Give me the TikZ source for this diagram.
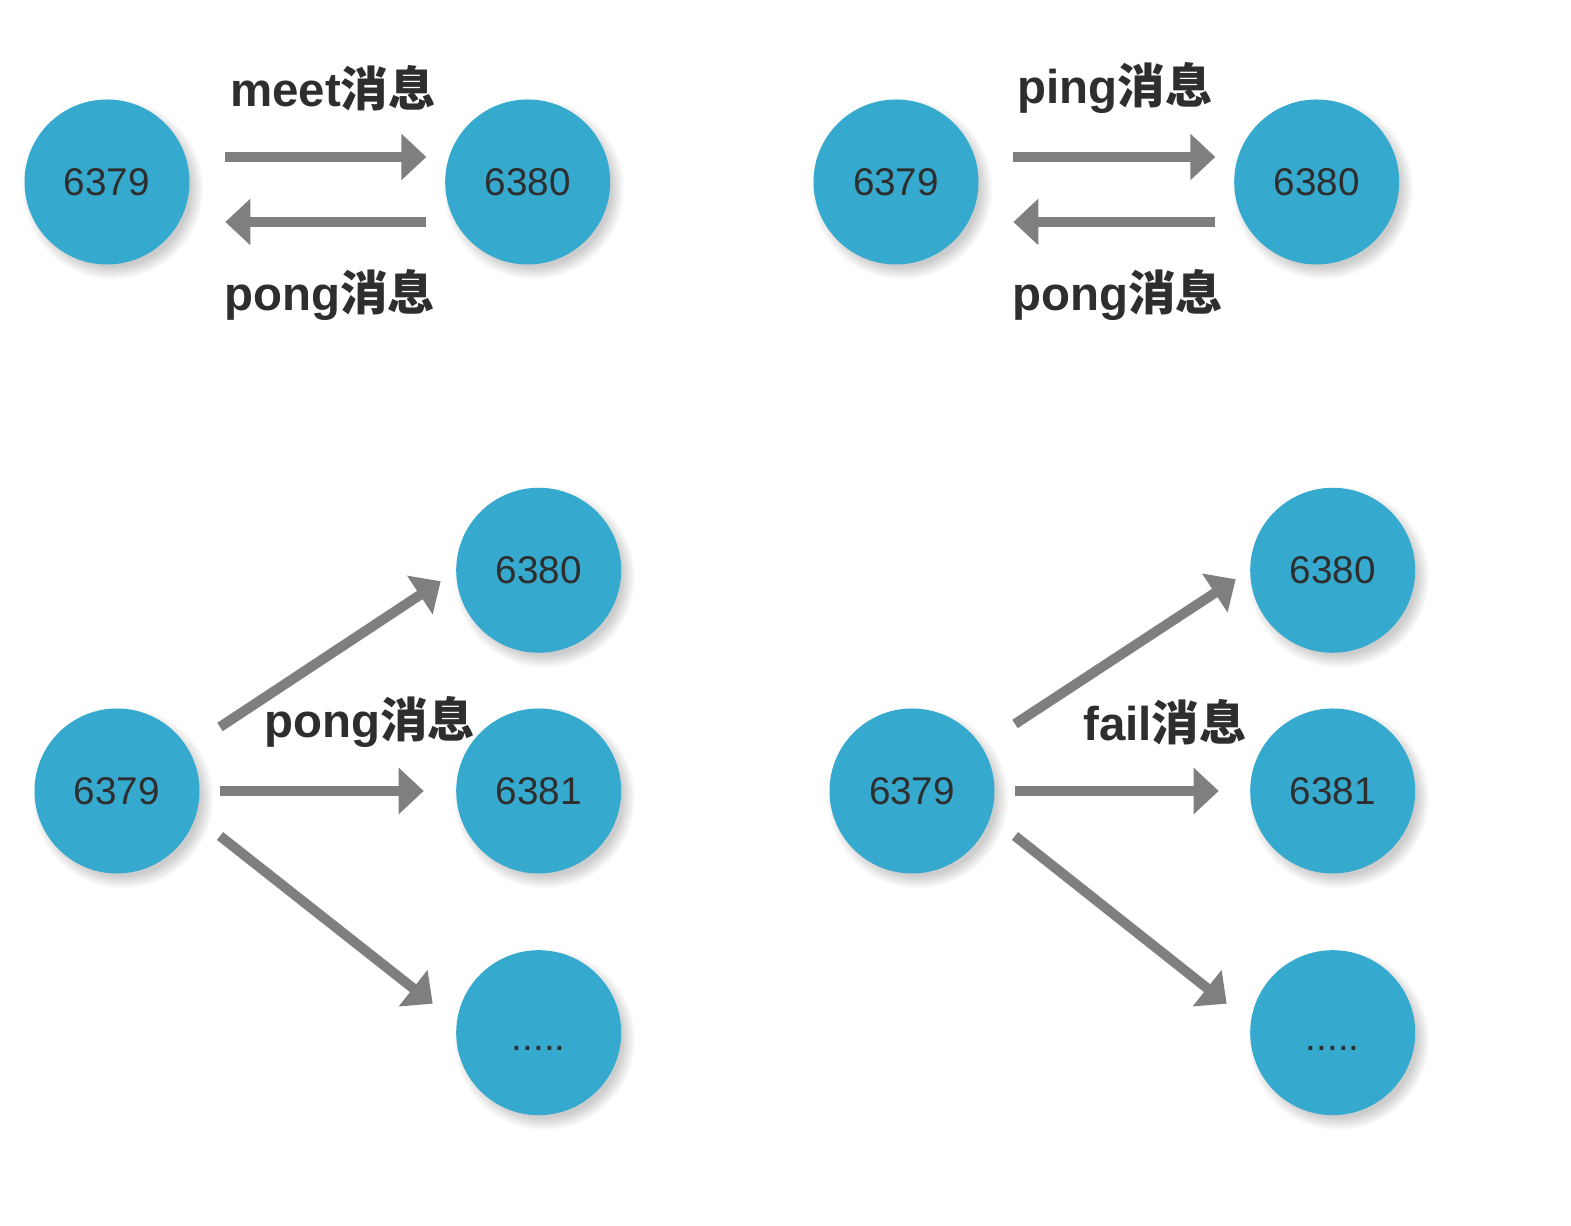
\documentclass[tikz,border=0pt]{standalone}
\usepackage{fontspec}
\setmainfont{Liberation Sans}
\newfontfamily\cjk{Noto Sans CJK SC}
\usepackage{tikz}
\usetikzlibrary{arrows.meta,positioning,shadows}
\definecolor{nodeblue}{HTML}{36A9CE}
\definecolor{arrowgray}{HTML}{7F7F7F}
\definecolor{textdark}{HTML}{2E2E2E}

\begin{document}
\begin{tikzpicture}[
  node distance=5.1cm,
  port/.style={circle,fill=nodeblue,minimum size=3.3cm,inner sep=0pt,
    text=textdark,font=\fontsize{22}{24}\selectfont,
    circular drop shadow={shadow xshift=0.1cm,shadow yshift=-0.12cm,
      fill=black!28,opacity=0.7}},
  msg/.style={text=textdark,font=\fontsize{27}{29}\selectfont\bfseries},
  arrow/.style={draw=arrowgray,line width=0.2cm,
    -{Triangle[length=0.5cm,width=0.9cm]}}
]
  \useasboundingbox (0,0) rectangle (31.42,24.52);

  % meet / pong
  \node[port] (meetA) at (2.14,20.88) {6379};
  \node[port,right=of meetA] (meetB) {6380};
  \node[msg] (meetMsg) at (6.66,22.76) {meet{\cjk 消息}};
  \node[msg] (meetPong) at (6.6,18.62) {pong{\cjk 消息}};
  \draw[arrow] ([shift={(0.71,0.5)}]meetA.east) -- ([shift={(-0.37,0.5)}]meetB.west);
  \draw[arrow] ([shift={(-0.37,-0.8)}]meetB.west) -- ([shift={(0.71,-0.8)}]meetA.east);

  % ping / pong
  \node[port] (pingA) at (17.92,20.88) {6379};
  \node[port,right=of pingA] (pingB) {6380};
  \node[msg] (pingMsg) at (22.3,22.76) {ping{\cjk 消息}};
  \node[msg] (pingPong) at (22.36,18.62) {pong{\cjk 消息}};
  \draw[arrow] ([shift={(0.69,0.5)}]pingA.east) -- ([shift={(-0.37,0.5)}]pingB.west);
  \draw[arrow] ([shift={(-0.37,-0.8)}]pingB.west) -- ([shift={(0.69,-0.8)}]pingA.east);

  % pong broadcast
  \node[port] (pongSrc) at (2.34,8.7) {6379};
  \node[port,right=5.12cm of pongSrc] (pongMid) {6381};
  \node[port,above=1.1cm of pongMid] (pongTop) {6380};
  \node[port,below=1.52cm of pongMid] (pongBot) {\raisebox{-10pt}[0pt][0pt]{.....}};
  \node[msg] (pongMsg) at (7.4,10.08) {pong{\cjk 消息}};
  \draw[arrow] ([shift={(2.06,1.28)}]pongSrc.center) -- ([shift={(-1.96,-0.22)}]pongTop.center);
  \draw[arrow] ([shift={(2.06,0)}]pongSrc.center) -- ([shift={(-2.3,0)}]pongMid.center);
  \draw[arrow] ([shift={(2.06,-0.9)}]pongSrc.center) -- ([shift={(-2.12,0.58)}]pongBot.center);

  % fail broadcast
  \node[port] (failSrc) at (18.24,8.7) {6379};
  \node[port,right=5.1cm of failSrc] (failMid) {6381};
  \node[port,above=1.1cm of failMid] (failTop) {6380};
  \node[port,below=1.52cm of failMid] (failBot) {\raisebox{-10pt}[0pt][0pt]{.....}};
  \node[msg] (failMsg) at (23.3,10.08) {fail{\cjk 消息}};
  \draw[arrow] ([shift={(2.06,1.34)}]failSrc.center) -- ([shift={(-1.94,-0.18)}]failTop.center);
  \draw[arrow] ([shift={(2.06,0)}]failSrc.center) -- ([shift={(-2.28,0)}]failMid.center);
  \draw[arrow] ([shift={(2.06,-0.9)}]failSrc.center) -- ([shift={(-2.12,0.58)}]failBot.center);
\end{tikzpicture}
\end{document}
